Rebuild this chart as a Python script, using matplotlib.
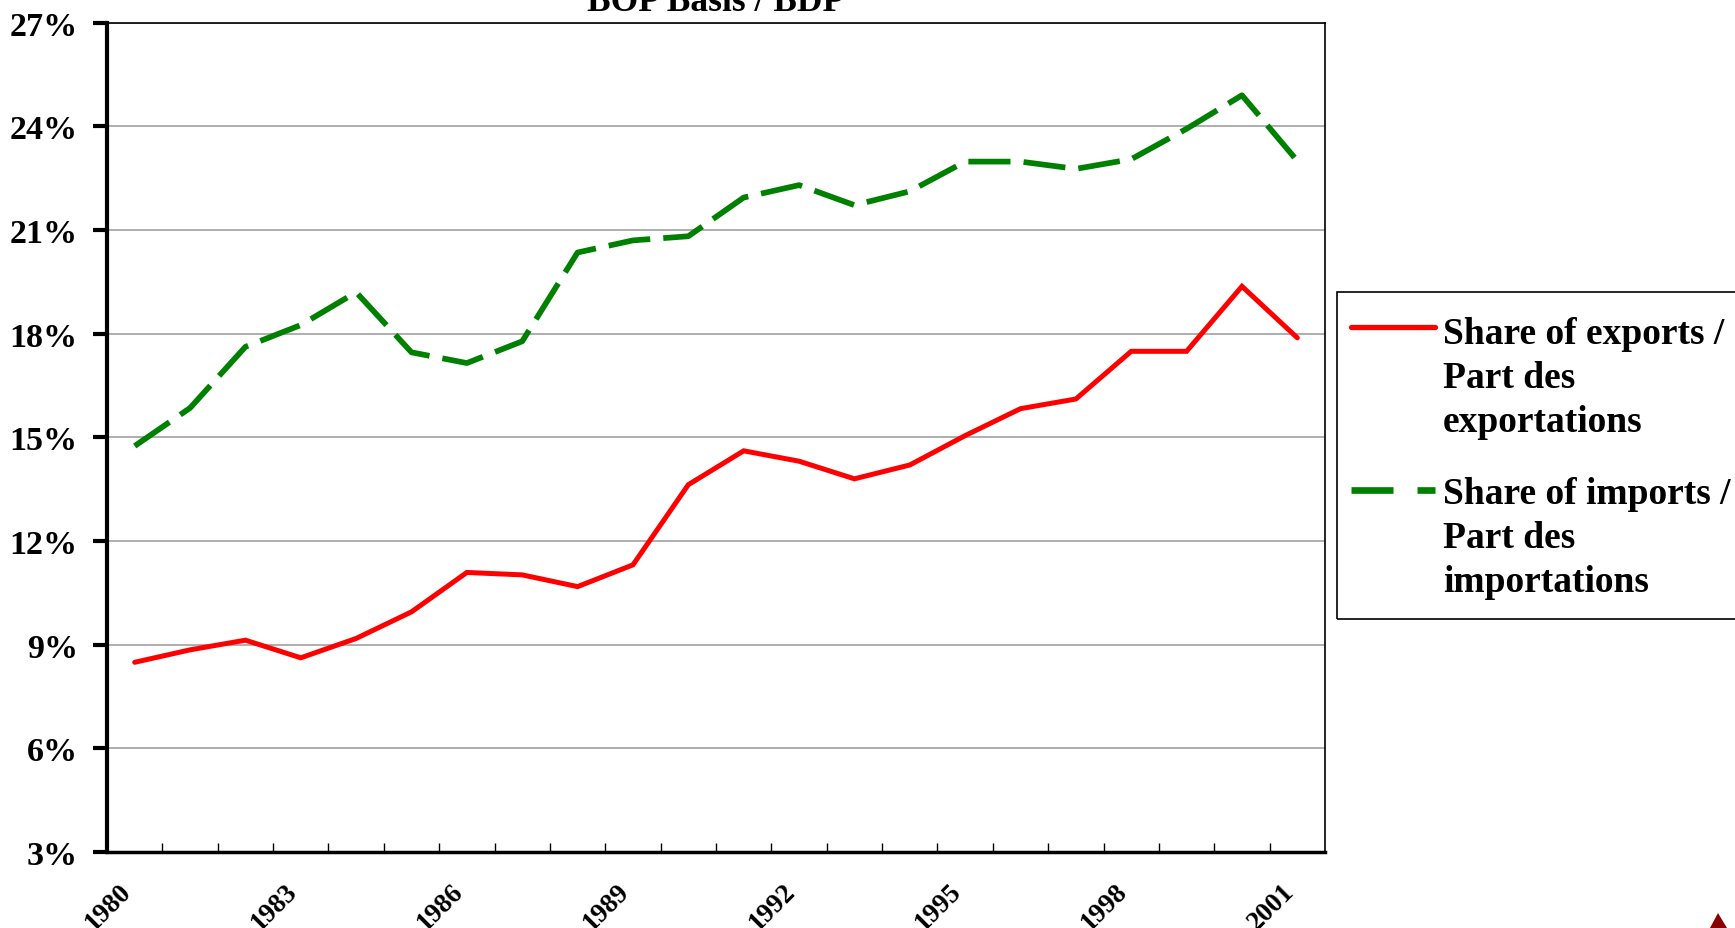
import matplotlib
matplotlib.use('Agg')
import matplotlib.pyplot as plt
from matplotlib.lines import Line2D
from matplotlib.patches import Rectangle, Polygon
from matplotlib.transforms import ScaledTranslation

plt.rcParams['font.family'] = ['Liberation Serif', 'DejaVu Serif']
plt.rcParams['font.weight'] = 'bold'

years = list(range(1980, 2002))
exports = [8.49, 8.85, 9.13, 8.62, 9.18, 9.95, 11.09, 11.02, 10.68, 11.31,
           13.63, 14.61, 14.31, 13.80, 14.20, 15.05, 15.83, 16.11, 17.49, 17.49,
           19.37, 17.88]
imports = [14.75, 15.85, 17.62, 18.25, 19.20, 17.46, 17.15, 17.78, 20.35, 20.70,
           20.82, 21.94, 22.30, 21.72, 22.12, 22.98, 22.98, 22.77, 23.05, 23.93,
           24.90, 23.00]
yticks = [3, 6, 9, 12, 15, 18, 21, 24, 27]
label_years = [1980, 1983, 1986, 1989, 1992, 1995, 1998, 2001]

W, H = 1735, 929
fig = plt.figure(figsize=(W / 100, H / 100), dpi=100)
ax = fig.add_axes([107 / W, 1 - 853 / H, (1325 - 107) / W, (853 - 23.7) / H])

x = list(range(len(years)))
ax.plot(x, exports, color='#ff0000', lw=3.6, solid_joinstyle='miter',
        solid_capstyle='round', zorder=3)
ax.plot(x, imports, color='#008000', lw=4.1, linestyle=(0, (7.4, 2.3)),
        dash_capstyle='butt', zorder=3)

ax.set_xlim(-0.5, len(years) - 0.5)
ax.set_ylim(3, 27)
ax.set_yticks(yticks)
ax.set_yticklabels([f'{v}%' for v in yticks], fontsize=24.5, fontweight='bold')
ax.tick_params(axis='y', direction='out', length=10, width=3, pad=11)
ax.yaxis.grid(True, color='#999999', lw=1.1)
ax.set_axisbelow(True)

ax.set_xticks([years.index(y) for y in label_years])
ax.set_xticklabels([str(y) for y in label_years], fontsize=19.5, fontweight='bold',
                   rotation=45, ha='right', va='top', rotation_mode='anchor')
ax.set_xticks([i + 0.5 for i in range(len(years) - 1)], minor=True)
ax.tick_params(axis='x', which='major', length=0, pad=19)
ax.tick_params(axis='x', which='minor', direction='in', length=6.5, width=1)
shift = ScaledTranslation(-16 / 100, 0, fig.dpi_scale_trans)
for lab in ax.get_xticklabels():
    lab.set_transform(lab.get_transform() + shift)

ax.spines['left'].set_linewidth(3)
ax.spines['bottom'].set_linewidth(2.5)
ax.spines['top'].set_linewidth(1.2)
ax.spines['right'].set_linewidth(1.2)

fig.text(716 / W, 1 - 11 / H, 'BOP Basis / BDP', ha='center', va='baseline',
         fontsize=25.5, fontweight='bold')

# legend box, drawn by hand so the markers sit on the first text line
fig.patches.append(Rectangle((1337 / W, 1 - 620 / H), 500 / W, 327 / H,
                             transform=fig.transFigure, fill=False,
                             edgecolor='black', lw=1.2))
fig.lines.append(Line2D([1351 / W, 1435 / W], [1 - 328 / H, 1 - 328 / H],
                        transform=fig.transFigure, color='#ff0000', lw=3.8,
                        solid_capstyle='round'))
fig.lines.append(Line2D([1351 / W, 1435 / W], [1 - 491 / H, 1 - 491 / H],
                        transform=fig.transFigure, color='#008000', lw=4.8,
                        linestyle=(0, (6.3, 3.6)), dash_capstyle='butt'))
fig.text(1443 / W, 1 - 317 / H, 'Share of exports /\nPart des\nexportations',
         ha='left', va='top', fontsize=27, fontweight='bold', linespacing=1.33)
fig.text(1443 / W, 1 - 477 / H, 'Share of imports /\nPart des\nimportations',
         ha='left', va='top', fontsize=27, fontweight='bold', linespacing=1.33)

# small logo in the corner
fig.patches.append(Polygon([(1718 / W, 1 - 914 / H), (1710 / W, 0), (1727 / W, 0)],
                           closed=True, transform=fig.transFigure,
                           facecolor='#8b0000', edgecolor='none'))

plt.savefig('out.png', dpi=100)
